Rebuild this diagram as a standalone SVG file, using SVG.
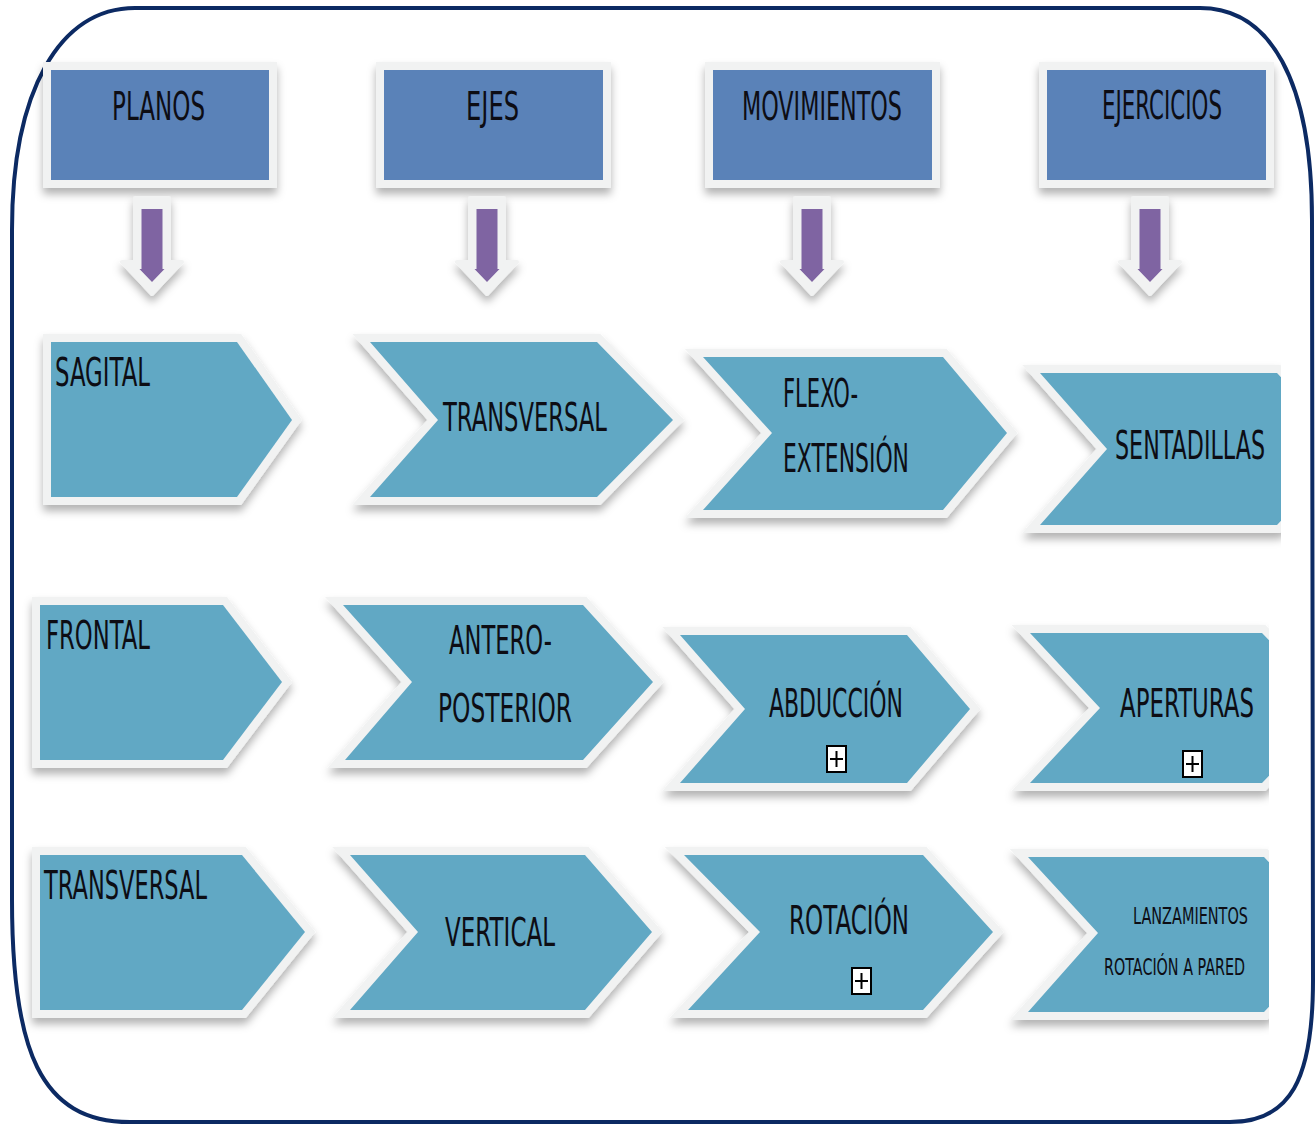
<svg xmlns="http://www.w3.org/2000/svg" width="1315" height="1126" viewBox="0 0 1315 1126">
  <defs>
    <filter id="soft" x="-20%" y="-20%" width="140%" height="150%">
      <feDropShadow dx="0" dy="6" stdDeviation="4" flood-color="#000" flood-opacity="0.3"/>
    </filter>
    <clipPath id="clipD1"><rect x="0" y="0" width="1281" height="1126"/></clipPath>
    <clipPath id="clipD2"><rect x="0" y="0" width="1269" height="1126"/></clipPath>
    <clipPath id="clipD3"><rect x="0" y="0" width="1269" height="1126"/></clipPath>
  </defs>
  <style>
    .frame { fill: #ffffff; stroke: #0c2a63; stroke-width: 4; }
    .hdr-edge { fill: #f1f2f2; filter: url(#soft); }
    .hdr { fill: #5a82b8; }
    .edge { fill: #f1f2f2; stroke: #f1f2f2; stroke-width: 16; stroke-linejoin: miter; filter: url(#soft); }
    .chev { fill: #61a8c4; }
    .arrow-edge { fill: #f1f2f2; stroke: #f1f2f2; stroke-width: 4; stroke-linejoin: round; filter: url(#soft); }
    .arrow { fill: #7f64a2; }
    .t { font-family: "DejaVu Sans", "Liberation Sans", sans-serif; font-size: 20px; fill: #0d0d14; }
    .ts { font-size: 13px; }
    .plus-box { fill: #ffffff; stroke: #000; stroke-width: 2; }
    .plus { stroke: #000; stroke-width: 2; }
  </style>

  <!-- outer rounded frame -->
  <path class="frame" d="M 135,8 L 1200,8 C 1270,8 1312,80 1312,220 L 1313,980 C 1313,1080 1290,1122 1230,1122 L 130,1122 C 40,1122 12,1050 12,900 L 12,230 C 12,90 60,8 135,8 Z"/>

  <!-- column headers (tall narrow lettering: glyphs stretched vertically) -->
  <g id="hdr-planos">
    <rect class="hdr-edge" x="43" y="62" width="234" height="126"/>
    <rect class="hdr" x="51" y="70" width="218" height="110"/>
    <text class="t" transform="translate(112,120) scale(1,1.99)" textLength="93" lengthAdjust="spacingAndGlyphs">PLANOS</text>
  </g>
  <g id="hdr-ejes">
    <rect class="hdr-edge" x="376" y="62" width="235" height="126"/>
    <rect class="hdr" x="384" y="70" width="219" height="110"/>
    <text class="t" transform="translate(466,120) scale(1,1.99)" textLength="53" lengthAdjust="spacingAndGlyphs">EJES</text>
  </g>
  <g id="hdr-movimientos">
    <rect class="hdr-edge" x="705" y="62" width="235" height="126"/>
    <rect class="hdr" x="713" y="70" width="219" height="110"/>
    <text class="t" transform="translate(742,120) scale(1,1.99)" textLength="160" lengthAdjust="spacingAndGlyphs">MOVIMIENTOS</text>
  </g>
  <g id="hdr-ejercicios">
    <rect class="hdr-edge" x="1039" y="62" width="235" height="126"/>
    <rect class="hdr" x="1047" y="70" width="219" height="110"/>
    <text class="t" transform="translate(1102,119) scale(1,1.99)" textLength="120" lengthAdjust="spacingAndGlyphs">EJERCICIOS</text>
  </g>

  <!-- downward arrows under the headers -->
  <g id="connectors">
    <g transform="translate(152,0)">
      <polygon class="arrow-edge" points="-17,198 17,198 17,262 30,262 0,294 -30,262 -17,262"/>
      <polygon class="arrow" points="-10.5,209 10.5,209 10.5,269 12.5,269 0,282 -12.5,269 -10.5,269"/>
    </g>
    <g transform="translate(487,0)">
      <polygon class="arrow-edge" points="-17,198 17,198 17,262 30,262 0,294 -30,262 -17,262"/>
      <polygon class="arrow" points="-10.5,209 10.5,209 10.5,269 12.5,269 0,282 -12.5,269 -10.5,269"/>
    </g>
    <g transform="translate(812,0)">
      <polygon class="arrow-edge" points="-17,198 17,198 17,262 30,262 0,294 -30,262 -17,262"/>
      <polygon class="arrow" points="-10.5,209 10.5,209 10.5,269 12.5,269 0,282 -12.5,269 -10.5,269"/>
    </g>
    <g transform="translate(1150,0)">
      <polygon class="arrow-edge" points="-17,198 17,198 17,262 30,262 0,294 -30,262 -17,262"/>
      <polygon class="arrow" points="-10.5,209 10.5,209 10.5,269 12.5,269 0,282 -12.5,269 -10.5,269"/>
    </g>
  </g>

  <!-- row 1 -->
  <g id="sagital">
    <polygon class="edge" points="51,342 237,342 292,420 237,497 51,497"/>
    <polygon class="chev" points="51,342 237,342 292,420 237,497 51,497"/>
    <text class="t" transform="translate(55,386) scale(1,1.92)" textLength="95" lengthAdjust="spacingAndGlyphs">SAGITAL</text>
  </g>
  <g id="eje-transversal">
    <polygon class="edge" points="370,342 597,342 673,420 597,497 370,497 438,420"/>
    <polygon class="chev" points="370,342 597,342 673,420 597,497 370,497 438,420"/>
    <text class="t" transform="translate(443,431) scale(1,1.92)" textLength="164" lengthAdjust="spacingAndGlyphs">TRANSVERSAL</text>
  </g>
  <g id="flexo-extension">
    <polygon class="edge" points="703,357 943,357 1007,433 943,510 703,510 772,433"/>
    <polygon class="chev" points="703,357 943,357 1007,433 943,510 703,510 772,433"/>
    <text class="t" transform="translate(783,407) scale(1,1.92)" textLength="75" lengthAdjust="spacingAndGlyphs">FLEXO-</text>
    <text class="t" transform="translate(783,472) scale(1,1.92)" textLength="126" lengthAdjust="spacingAndGlyphs">EXTENSIÓN</text>
  </g>
  <g id="sentadillas" clip-path="url(#clipD1)">
    <polygon class="edge" points="1040,373 1277,373 1350,449 1277,525 1040,525 1107,449"/>
    <polygon class="chev" points="1040,373 1277,373 1350,449 1277,525 1040,525 1107,449"/>
    <text class="t" transform="translate(1115,459) scale(1,1.92)" textLength="150" lengthAdjust="spacingAndGlyphs">SENTADILLAS</text>
  </g>

  <!-- row 2 -->
  <g id="frontal">
    <polygon class="edge" points="40,605 223,605 282,682 223,760 40,760"/>
    <polygon class="chev" points="40,605 223,605 282,682 223,760 40,760"/>
    <text class="t" transform="translate(46,649) scale(1,1.92)" textLength="104" lengthAdjust="spacingAndGlyphs">FRONTAL</text>
  </g>
  <g id="antero-posterior">
    <polygon class="edge" points="343,605 583,605 653,682 583,760 345,760 412,682"/>
    <polygon class="chev" points="343,605 583,605 653,682 583,760 345,760 412,682"/>
    <text class="t" transform="translate(449,654) scale(1,1.92)" textLength="103" lengthAdjust="spacingAndGlyphs">ANTERO-</text>
    <text class="t" transform="translate(438,722) scale(1,1.92)" textLength="134" lengthAdjust="spacingAndGlyphs">POSTERIOR</text>
  </g>
  <g id="abduccion">
    <polygon class="edge" points="680,635 907,635 970,709 907,783 680,783 745,709"/>
    <polygon class="chev" points="680,635 907,635 970,709 907,783 680,783 745,709"/>
    <text class="t" transform="translate(769,717) scale(1,1.92)" textLength="134" lengthAdjust="spacingAndGlyphs">ABDUCCIÓN</text>
    <rect class="plus-box" x="827" y="746" width="19" height="26"/>
    <path class="plus" d="M 836.5,751 V 767 M 830,759 H 843"/>
  </g>
  <g id="aperturas" clip-path="url(#clipD2)">
    <polygon class="edge" points="1030,633 1262,633 1335,708 1262,783 1030,783 1100,708"/>
    <polygon class="chev" points="1030,633 1262,633 1335,708 1262,783 1030,783 1100,708"/>
    <text class="t" transform="translate(1120,717) scale(1,1.92)" textLength="134" lengthAdjust="spacingAndGlyphs">APERTURAS</text>
    <rect class="plus-box" x="1183" y="751" width="19" height="26"/>
    <path class="plus" d="M 1192.5,756 V 772 M 1186,764 H 1199"/>
  </g>

  <!-- row 3 -->
  <g id="plano-transversal">
    <polygon class="edge" points="40,855 242,855 305,932 242,1010 40,1010"/>
    <polygon class="chev" points="40,855 242,855 305,932 242,1010 40,1010"/>
    <text class="t" transform="translate(44,899) scale(1,1.92)" textLength="163" lengthAdjust="spacingAndGlyphs">TRANSVERSAL</text>
  </g>
  <g id="vertical">
    <polygon class="edge" points="350,855 585,855 652,932 585,1010 350,1010 418,932"/>
    <polygon class="chev" points="350,855 585,855 652,932 585,1010 350,1010 418,932"/>
    <text class="t" transform="translate(445,946) scale(1,1.92)" textLength="110" lengthAdjust="spacingAndGlyphs">VERTICAL</text>
  </g>
  <g id="rotacion">
    <polygon class="edge" points="684,855 923,855 993,932 923,1010 688,1010 760,932"/>
    <polygon class="chev" points="684,855 923,855 993,932 923,1010 688,1010 760,932"/>
    <text class="t" transform="translate(789,934) scale(1,1.92)" textLength="120" lengthAdjust="spacingAndGlyphs">ROTACIÓN</text>
    <rect class="plus-box" x="852" y="968" width="19" height="26"/>
    <path class="plus" d="M 861.5,973 V 989 M 855,981 H 868"/>
  </g>
  <g id="lanzamientos" clip-path="url(#clipD3)">
    <polygon class="edge" points="1028,857 1264,857 1338,933 1264,1012 1028,1012 1098,933"/>
    <polygon class="chev" points="1028,857 1264,857 1338,933 1264,1012 1028,1012 1098,933"/>
    <text class="t ts" transform="translate(1133,924) scale(1,1.8)" textLength="115" lengthAdjust="spacingAndGlyphs">LANZAMIENTOS</text>
    <text class="t ts" transform="translate(1104,975) scale(1,1.8)" textLength="141" lengthAdjust="spacingAndGlyphs">ROTACIÓN A PARED</text>
  </g>
</svg>
